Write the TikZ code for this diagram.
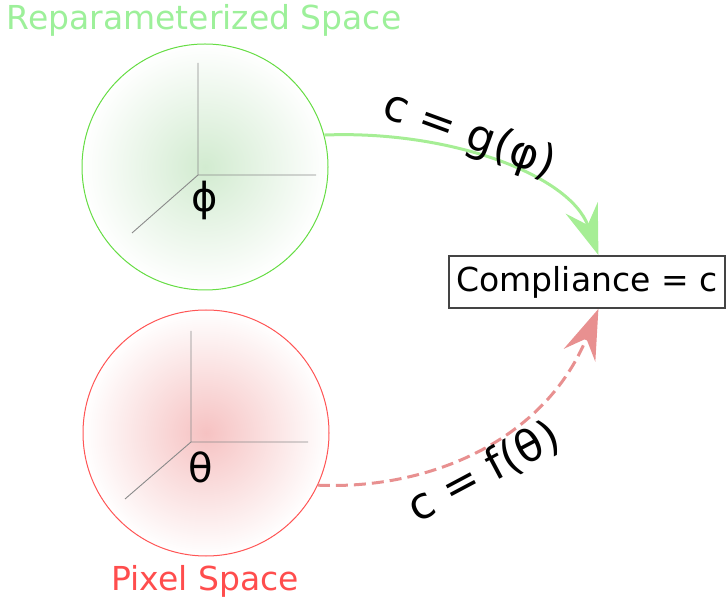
\documentclass[tikz,border=0pt]{standalone}
\usepackage{fontspec}
\setmainfont{DejaVu Sans}
\usetikzlibrary{
  arrows.meta,
  positioning,
  calc
}
\definecolor{rpLine}{HTML}{66DD44}
\definecolor{rpText}{HTML}{9DF09A}
\definecolor{rpArrow}{HTML}{A6EE95}
\definecolor{rpShade}{HTML}{D2EBD0}
\definecolor{pxLine}{HTML}{FF5555}
\definecolor{pxText}{HTML}{FF4D4D}
\definecolor{pxArrow}{HTML}{E89090}
\definecolor{pxShade}{HTML}{F6C2C2}
\definecolor{axGray}{HTML}{8A8A8A}
\definecolor{boxGray}{HTML}{444444}

\begin{document}
\begin{tikzpicture}[x=1pt, y=-1pt,
  spacecircle/.style={circle, minimum size=246pt, inner sep=0pt, line width=1pt},
  axisline/.style={draw=axGray, line width=0.9pt},
  spacetitle/.style={font=\fontsize{33}{39}\selectfont, inner sep=0pt},
  symlabel/.style={font=\fontsize{40}{48}\selectfont, inner sep=0pt},
  arrowlabel/.style={font=\fontsize{44}{52}\selectfont, inner sep=0pt},
  compbox/.style={draw=boxGray, line width=1.8pt, minimum width=276pt,
    minimum height=52pt, inner sep=0pt, font=\fontsize{33}{39}\selectfont},
  maparrow/.style={line width=3pt,
    -{Stealth[length=50pt, width=34pt, inset=18pt]}}
  ]
  \useasboundingbox (0,0) rectangle (726,601);

  % the two spaces
  \node[spacecircle, draw=rpLine, inner color=rpShade, outer color=white]
    (repspace) at (205,167) {};
  \node[spacecircle, draw=pxLine, inner color=pxShade, outer color=white]
    (pixspace) at (206,433) {};
  \node[spacetitle, text=rpText] (reptitle) at (204,20) {Reparameterized Space};
  \node[spacetitle, text=pxText] (pixtitle) at (205,581) {Pixel Space};

  % axes inside each space
  \foreach \ox/\oy/\uy/\rx/\dx/\dy in {198/175/63/316/132/233,
                                       191/442/331/308/125/499}{
    \draw[axisline] (\ox,\uy) -- (\ox,\oy) -- (\rx,\oy) (\ox,\oy) -- (\dx,\dy);
  }
  \node[symlabel] (phi) at (205,200) {ϕ};
  \node[symlabel] (theta) at (201,467) {θ};

  % target
  \node[compbox] (compliance) at (587,282) {Compliance = c};

  % mappings
  \draw[maparrow, draw=rpArrow]
    (repspace.15) .. controls (450,130) and (570,175) .. (compliance.67);
  \draw[maparrow, draw=pxArrow, dash pattern=on 12pt off 6pt]
    (pixspace.-25) .. controls (430,490) and (545,440) .. (compliance.-67);
  \node[arrowlabel, rotate=-20] (glabel) at (469,136) {c = g(φ)};
  \node[arrowlabel, rotate=28] (flabel) at (484,472) {c = f(θ)};
\end{tikzpicture}
\end{document}
